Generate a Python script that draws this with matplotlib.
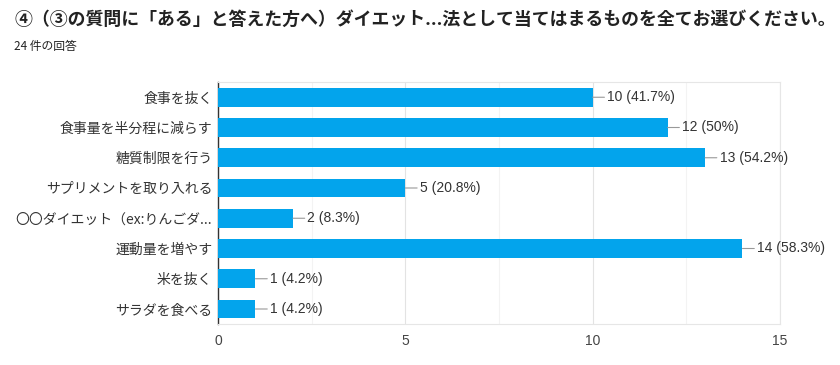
import matplotlib
matplotlib.use("Agg")
import matplotlib.pyplot as plt

plt.rcParams["font.family"] = ["Noto Sans CJK JP", "DejaVu Sans"]

# survey answers (24 responses)
categories = [
    "食事を抜く",
    "食事量を半分程に減らす",
    "糖質制限を行う",
    "サプリメントを取り入れる",
    "〇〇ダイエット（ex:りんごダ...",
    "運動量を増やす",
    "米を抜く",
    "サラダを食べる",
]
counts = [10, 12, 13, 5, 2, 14, 1, 1]
percents = ["41.7%", "50%", "54.2%", "20.8%", "8.3%", "58.3%", "4.2%", "4.2%"]
x_ticks = [0, 5, 10, 15]

title = "④（③の質問に「ある」と答えた方へ）ダイエット...法として当てはまるものを全てお選びください。"
subtitle = "24 件の回答"

bar_color = "#03a4ec"
num_font = ["Liberation Sans", "Noto Sans CJK JP"]

fig = plt.figure(figsize=(8.4, 3.65), dpi=100)
ax = fig.add_axes([0.2595, 0.112, 0.669, 0.663])

y = list(range(len(categories)))
ax.barh(y, counts, height=0.62, color=bar_color, zorder=3)

# value labels with short leader line
for i, (c, p) in enumerate(zip(counts, percents)):
    ax.annotate(f"{c} ({p})", xy=(c, i), xytext=(10.5, 0), textcoords="offset points",
                va="center", ha="left", fontsize=10, color="#333333", family=num_font,
                arrowprops=dict(arrowstyle="-", color="#999999", lw=0.8,
                                shrinkA=0, shrinkB=0))

ax.set_ylim(len(categories) - 0.5, -0.5)
ax.set_yticks(y)
ax.set_yticklabels(categories, fontsize=10, color="#333333")
ax.set_xlim(0, 15)
ax.set_xticks(x_ticks)
ax.set_xticklabels([str(t) for t in x_ticks], fontsize=10, color="#444444", family=num_font)
ax.set_xticks([2.5, 7.5, 12.5], minor=True)
ax.tick_params(axis="y", length=0, pad=4)
ax.tick_params(axis="x", length=0, pad=7)
ax.tick_params(axis="x", which="minor", length=0)

ax.grid(axis="x", which="major", color="#e3e3e3", lw=0.8, zorder=0)
ax.grid(axis="x", which="minor", color="#f3f3f3", lw=0.8, zorder=0)

for side in ["top", "right", "bottom"]:
    ax.spines[side].set_color("#e6e6e6")
    ax.spines[side].set_linewidth(0.8)
ax.spines["left"].set_color("#333333")
ax.spines["left"].set_linewidth(1.0)

fig.text(0.017, 0.945, title, fontsize=12.9, fontweight="bold", color="#222222",
         ha="left", va="center")
fig.text(0.017, 0.872, subtitle, fontsize=8.5, color="#222222",
         ha="left", va="center")

plt.savefig("out.png", dpi=100)
plt.close()
